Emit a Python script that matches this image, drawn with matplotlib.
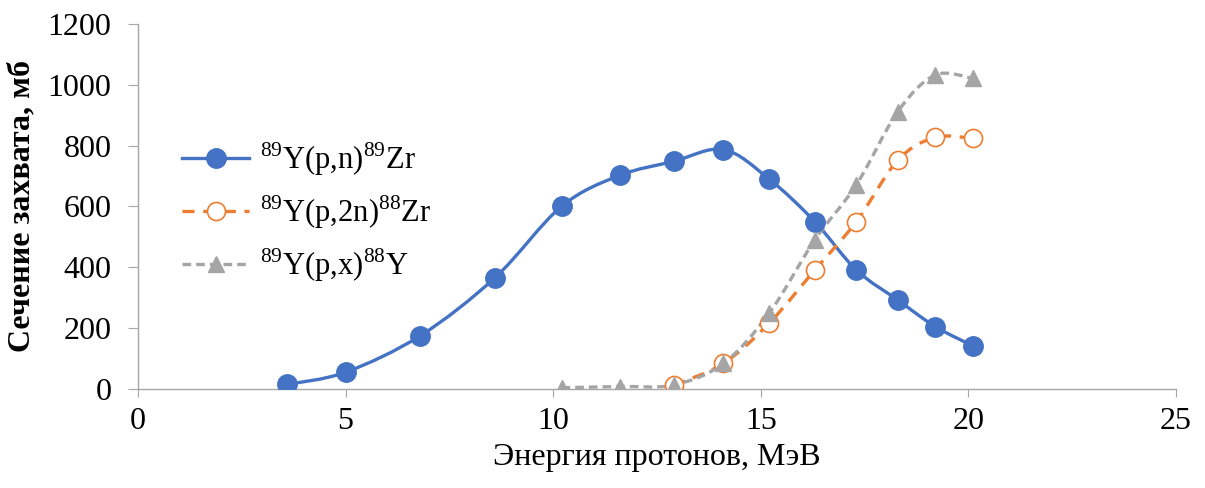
import numpy as np
import matplotlib.pyplot as plt
from matplotlib.path import Path
from matplotlib.patches import PathPatch

# proton energy (MeV) and cross-sections (mb)
e_pn = [3.6, 5.0, 6.8, 8.6, 10.2, 11.6, 12.9, 14.1, 15.2, 16.3, 17.3, 18.3, 19.2, 20.1]
s_pn = [15, 55, 175, 366, 600, 702, 748, 787, 690, 550, 391, 292, 205, 142]

e_p2n = [12.9, 14.1, 15.2, 16.3, 17.3, 18.3, 19.2, 20.1]
s_p2n = [12, 84, 216, 391, 550, 752, 827, 824]

e_px = [10.2, 11.6, 12.9, 14.1, 15.2, 16.3, 17.3, 18.3, 19.2, 20.1]
s_px = [4, 8, 13, 84, 249, 490, 671, 912, 1032, 1021]

labels = [r'$^{89}$Y(p,n)$^{89}$Zr', r'$^{89}$Y(p,2n)$^{88}$Zr', r'$^{89}$Y(p,x)$^{88}$Y']

plt.rcParams['font.family'] = 'Liberation Serif'
plt.rcParams['mathtext.fontset'] = 'custom'
plt.rcParams['mathtext.rm'] = 'Liberation Serif'


def smooth_path(x, y):
    # Excel-like smoothed line: cubic Bezier segments, Catmull-Rom control points
    x = np.asarray(x, float)
    y = np.asarray(y, float)
    n = len(x)
    verts = [(x[0], y[0])]
    codes = [Path.MOVETO]
    for i in range(n - 1):
        i0 = max(i - 1, 0)
        i3 = min(i + 2, n - 1)
        c1 = (x[i] + (x[i+1] - x[i0]) / 6, y[i] + (y[i+1] - y[i0]) / 6)
        c2 = (x[i+1] - (x[i3] - x[i]) / 6, y[i+1] - (y[i3] - y[i]) / 6)
        verts += [c1, c2, (x[i+1], y[i+1])]
        codes += [Path.CURVE4] * 3
    return Path(verts, codes)


fig = plt.figure(figsize=(12.05, 4.88), dpi=100)
ax = fig.add_axes([0.1145, 0.203, 0.8615, 0.748])

blue = '#4472c4'
orange = '#ed7d31'
gray = '#a5a5a5'
dash_or = (0, (3.6, 2.6))
dash_gr = (0, (2.6, 1.5))

ax.add_patch(PathPatch(smooth_path(e_pn, s_pn), fill=False, ec=blue, lw=2.4, zorder=2))
ax.add_patch(PathPatch(smooth_path(e_p2n, s_p2n), fill=False, ec=orange, lw=2.4,
                       ls=dash_or, zorder=2))
ax.add_patch(PathPatch(smooth_path(e_px, s_px), fill=False, ec=gray, lw=2.4,
                       ls=dash_gr, zorder=2))

ax.plot(e_pn, s_pn, 'o', color=blue, ms=14, zorder=3)
ax.plot(e_p2n, s_p2n, 'o', mfc='white', mec=orange, mew=1.2, ms=13, zorder=3)
ax.plot(e_px, s_px, '^', color=gray, ms=11, zorder=4)

# legend proxies
h1, = ax.plot([], [], '-o', color=blue, lw=2.4, ms=14)
h2, = ax.plot([], [], 'o', ls=dash_or, color=orange, mfc='white', mec=orange,
              mew=1.2, ms=13, lw=2.4)
h3, = ax.plot([], [], '^', ls=dash_gr, color=gray, ms=11, lw=2.4)
ax.legend([h1, h2, h3], labels, loc='upper left', bbox_to_anchor=(0.022, 0.74),
          frameon=False, fontsize=22, handlelength=2.2, handletextpad=0.35,
          labelspacing=0.5, borderpad=0.2)

ax.set_xlim(0, 25)
ax.set_ylim(0, 1200)
ax.set_xticks(np.arange(0, 26, 5))
ax.set_yticks(np.arange(0, 1201, 200))

for s in ['top', 'right']:
    ax.spines[s].set_visible(False)
for s in ['left', 'bottom']:
    ax.spines[s].set_color('#a6a6a6')
    ax.spines[s].set_linewidth(1.0)

ax.tick_params(axis='x', length=6, color='#a6a6a6', labelsize=23, pad=7)
ax.tick_params(axis='y', length=7, color='#a6a6a6', labelsize=23, pad=12)

ax.set_xlabel('Энергия протонов, МэВ', fontsize=23, labelpad=5)
ax.set_ylabel('Сечение захвата, мб', fontsize=23, fontweight='bold', labelpad=8)

fig.savefig('out.png', dpi=100)
